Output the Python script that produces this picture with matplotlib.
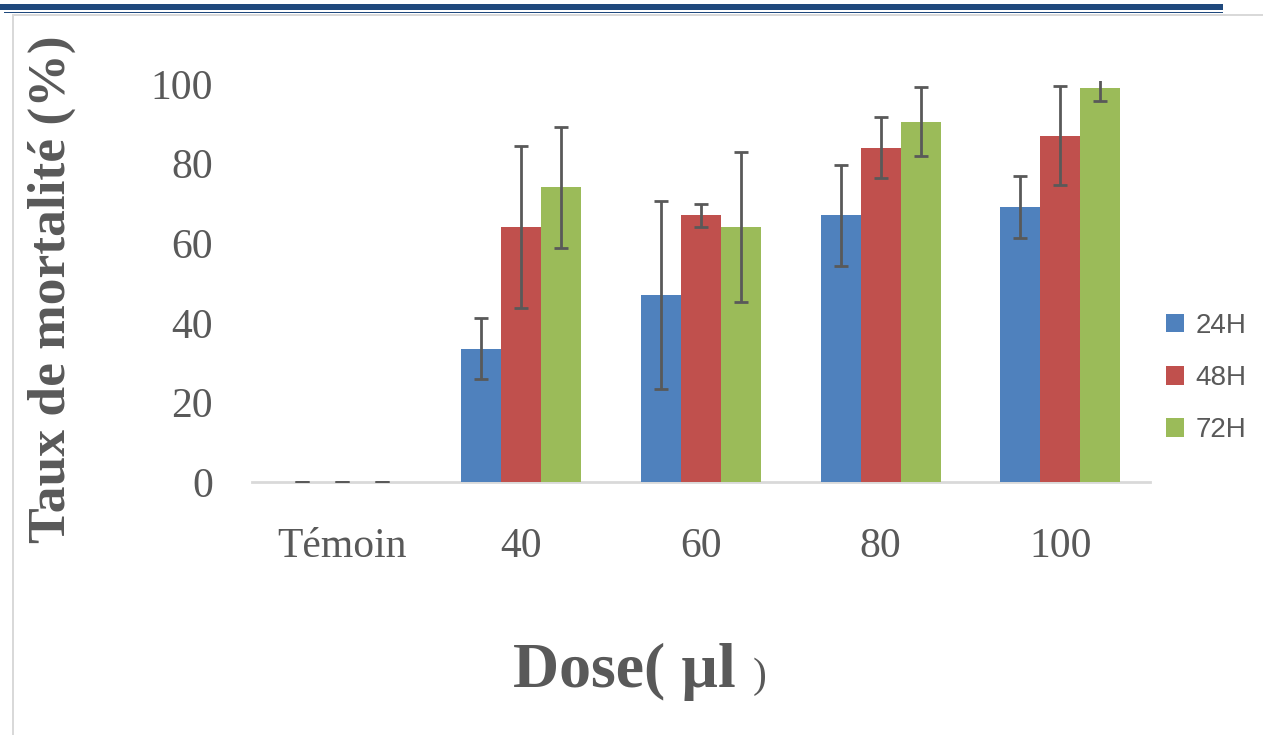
import numpy as np
import matplotlib
matplotlib.use("Agg")
import matplotlib.pyplot as plt
from matplotlib.patches import Rectangle

# data
doses = ["Témoin", "40", "60", "80", "100"]
series = ["24H", "48H", "72H"]

mort_24 = [0, 33.5, 47, 67, 69]
mort_48 = [0, 64, 67, 84, 87]
mort_72 = [0, 74, 64, 90.5, 99]

err_24 = [0, 7.7, 23.6, 12.7, 7.8]
err_48 = [0, 20.3, 2.9, 7.7, 12.5]
err_72 = [0, 15.3, 18.8, 8.7, 3.2]

colors = ["#4F81BD", "#C0504D", "#9BBB59"]
grey = "#595959"

W, H = 1263, 735
fig = plt.figure(figsize=(W / 100, H / 100), dpi=100)

def px_rect(x0, y0, x1, y1, color):
    # rectangle given in image pixels (y from top)
    fig.add_artist(Rectangle((x0 / W, 1 - y1 / H), (x1 - x0) / W, (y1 - y0) / H,
                             transform=fig.transFigure, color=color, lw=0))

# page decoration
px_rect(0, 4, 1223, 9.5, "#1F497D")
px_rect(4, 12, 1223, 13.3, "#1F497D")
px_rect(12, 13.5, 1263, 15.5, "#D9D9D9")
px_rect(12, 13.5, 14, 735, "#D9D9D9")

ax = fig.add_axes([252 / W, 1 - 482 / H, (1150 - 252) / W, (482 - 80.8) / H])

x = np.arange(len(doses))
w = 0.223
means = [mort_24, mort_48, mort_72]
errs = [err_24, err_48, err_72]
for i, (m, e) in enumerate(zip(means, errs)):
    xi = x + (i - 1) * w
    ax.bar(xi, m, width=w, color=colors[i], label=series[i], zorder=2)
    ax.errorbar(xi, m, yerr=e, fmt="none", ecolor=grey, elinewidth=2.0,
                capsize=5, capthick=2.0, zorder=3)

ax.set_xlim(-0.5, len(doses) - 0.5)
ax.set_ylim(0, 100.8)
ax.set_yticks(np.arange(0, 101, 20))
ax.set_xticks(x)
ax.set_xticklabels(doses)

for s in ["top", "right", "left"]:
    ax.spines[s].set_visible(False)
ax.spines["bottom"].set_color("#D9D9D9")
ax.spines["bottom"].set_linewidth(2)
ax.spines["bottom"].set_zorder(1)
ax.tick_params(axis="both", length=0, labelcolor=grey, labelsize=30)
ax.tick_params(axis="y", pad=28)
ax.tick_params(axis="x", pad=33)
for lab in ax.get_xticklabels() + ax.get_yticklabels():
    lab.set_family("Liberation Serif")

fig.text(52 / W, 1 - 289 / H, "Taux de mortalité (%)", rotation=90,
         ha="center", va="center", fontsize=38.5, fontweight="bold",
         family="Liberation Serif", color=grey)

fig.text(513 / W, 1 - 687 / H, "Dose( µl", ha="left", va="baseline",
         fontsize=46, fontweight="bold", family="Liberation Serif", color=grey)
fig.text(753 / W, 1 - 687 / H, ")", ha="left", va="baseline",
         fontsize=30, family="Liberation Serif", color=grey)

leg = ax.legend(loc="center left", bbox_to_anchor=(1166 / W, 1 - 378 / H),
                bbox_transform=fig.transFigure, frameon=False, fontsize=20,
                handlelength=0.65, handleheight=0.65, handletextpad=0.4,
                labelspacing=0.95, borderaxespad=0, borderpad=0)
for t in leg.get_texts():
    t.set_color(grey)
    t.set_family(["Liberation Sans Narrow", "Liberation Sans"])

fig.savefig("out.png", dpi=100)
